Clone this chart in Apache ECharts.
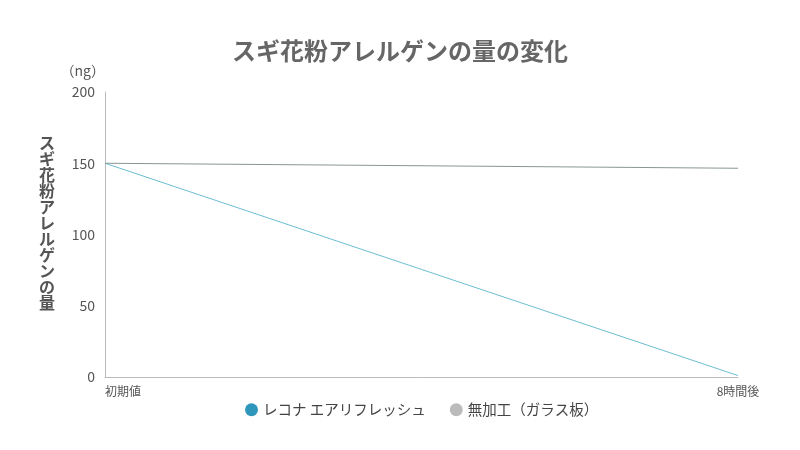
<!DOCTYPE html>
<html><head><meta charset="utf-8">
<script src="https://cdn.jsdelivr.net/npm/echarts@6/dist/echarts.min.js"></script>
<style>html,body{margin:0;padding:0;background:#fff}#c{width:800px;height:450px}</style>
</head><body><div id="c"></div>
<script>
const categories = ['初期値', '8時間後'];
const recona = [150, 1];
const untreated = [150, 146.5];
const yTicks = [0, 50, 100, 150, 200];
const seriesNames = ['レコナ エアリフレッシュ', '無加工（ガラス板）'];
const yTitle = 'スギ花粉アレルゲンの量';

const chart = echarts.init(document.getElementById('c'));
const font = '"Noto Sans CJK JP", "Noto Sans", sans-serif';
chart.setOption({
  backgroundColor: '#fff',
  animation: false,
  textStyle: { fontFamily: font },
  title: [
    { text: 'スギ花粉アレルゲンの量の変化', left: 'center', top: 34,
      textStyle: { fontSize: 24, fontWeight: 'bold', color: '#666', fontFamily: font } },
    { text: yTitle.split('').join('\n'), left: 34, top: 130,
      textStyle: { fontSize: 16, fontWeight: 'bold', color: '#555', lineHeight: 16, fontFamily: font } }
  ],
  legend: {
    bottom: 28, left: 240, icon: 'circle', itemWidth: 13, itemHeight: 13, itemGap: 24,
    textStyle: { fontSize: 14.5, color: '#444', fontFamily: font },
    data: seriesNames
  },
  grid: { left: 105, right: 62, top: 92, bottom: 73 },
  xAxis: {
    type: 'category', data: categories, boundaryGap: false,
    axisLine: { lineStyle: { color: '#bbb' } },
    axisTick: { show: false },
    axisLabel: { color: '#555', fontSize: 12, margin: 8, alignMinLabel: 'left' }
  },
  yAxis: {
    type: 'value', min: yTicks[0], max: yTicks[yTicks.length - 1], interval: 50,
    name: '（ng）', nameLocation: 'end', nameGap: 14,
    nameTextStyle: { color: '#555', fontSize: 14, align: 'right' },
    axisLine: { show: true, lineStyle: { color: '#bbb' } },
    axisTick: { show: false },
    splitLine: { show: false },
    axisLabel: { color: '#555', fontSize: 14, margin: 10 }
  },
  series: [
    { name: seriesNames[0], type: 'line', data: recona, showSymbol: false,
      itemStyle: { color: '#2e96bb' }, lineStyle: { color: '#6cbdd2', width: 1 } },
    { name: seriesNames[1], type: 'line', data: untreated, showSymbol: false,
      itemStyle: { color: '#bbbbbb' }, lineStyle: { color: '#8a9696', width: 1.2 } }
  ]
});
</script></body></html>
